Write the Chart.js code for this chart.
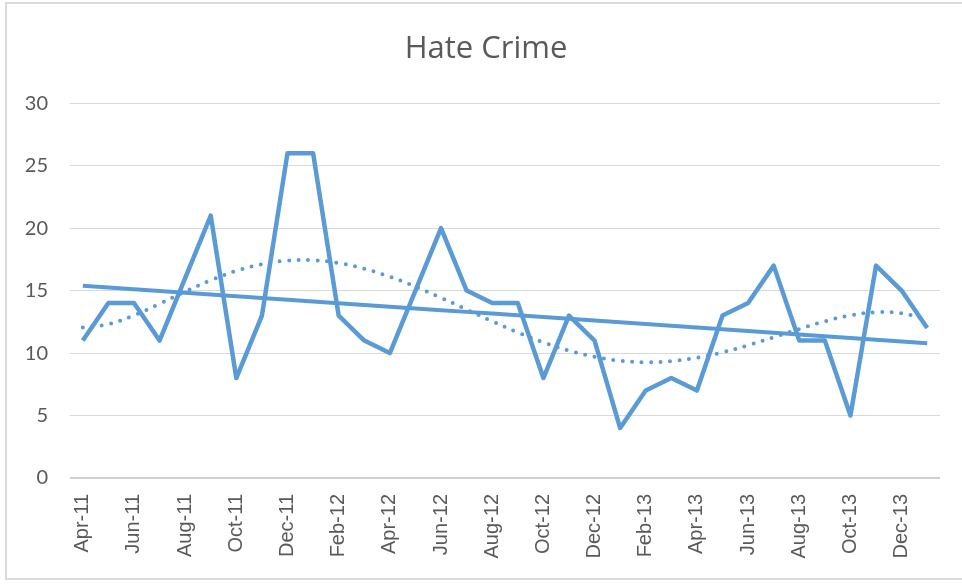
<!DOCTYPE html>
<html><head><meta charset="utf-8">
<script src="https://cdn.jsdelivr.net/npm/chart.js@4"></script>
<style>
html,body{margin:0;padding:0;background:#fff;overflow:hidden;width:962px;height:585px}
#frame{position:absolute;left:5px;top:2px;width:990px;height:578px;border:2px solid #D9D9D9;box-sizing:border-box}
#wrap{position:absolute;left:0;top:0;width:994px;height:585px}
</style></head><body>
<div id="frame"></div>
<div id="wrap"><canvas id="c"></canvas></div>
<script>
const chartTitle = 'Hate Crime';
const months = ['Apr-11','May-11','Jun-11','Jul-11','Aug-11','Sep-11','Oct-11','Nov-11','Dec-11',
  'Jan-12','Feb-12','Mar-12','Apr-12','May-12','Jun-12','Jul-12','Aug-12','Sep-12','Oct-12','Nov-12','Dec-12',
  'Jan-13','Feb-13','Mar-13','Apr-13','May-13','Jun-13','Jul-13','Aug-13','Sep-13','Oct-13','Nov-13','Dec-13',
  'Jan-14'];
const hateCrimes = [11,14,14,11,16,21,8,13,26,26,13,11,10,15,20,15,14,14,8,13,11,4,7,8,7,13,14,17,11,11,5,17,15,12];
const yTicks = [0,5,10,15,20,25,30];
const polyOrder = 6;

// least-squares trendlines computed from the data (as the spreadsheet does)
function polyFit(ys, order){
  const n = ys.length, c = (n+1)/2;
  const ts = ys.map((_,i)=>((i+1)-c)/c);
  const m = order+1;
  const A = Array.from({length:m},()=>new Array(m+1).fill(0));
  for(let i=0;i<n;i++){
    for(let r=0;r<m;r++){
      for(let k=0;k<m;k++) A[r][k]+=Math.pow(ts[i],r+k);
      A[r][m]+=ys[i]*Math.pow(ts[i],r);
    }
  }
  for(let col=0;col<m;col++){
    let p=col;
    for(let r=col+1;r<m;r++) if(Math.abs(A[r][col])>Math.abs(A[p][col])) p=r;
    [A[col],A[p]]=[A[p],A[col]];
    for(let r=0;r<m;r++){ if(r===col) continue;
      const f=A[r][col]/A[col][col];
      for(let k=col;k<=m;k++) A[r][k]-=f*A[col][k];
    }
  }
  const coef = A.map((row,i)=>row[m]/row[i]);
  return ts.map(t=>coef.reduce((s,a,j)=>s+a*Math.pow(t,j),0));
}
const linearTrend = polyFit(hateCrimes,1);
const polyTrend = polyFit(hateCrimes,polyOrder);

const blue = '#5B9BD5';
const textCol = '#595959';

new Chart(document.getElementById('c'), {
  type:'line',
  data:{
    labels: months,
    datasets:[
      {label:'Hate Crime', data:hateCrimes, borderColor:blue, borderWidth:4.5, pointRadius:0,
       tension:0, borderJoinStyle:'round', order:3},
      {label:'Linear', data:linearTrend, borderColor:blue, borderWidth:4, pointRadius:0, tension:0, order:2},
      {label:'Poly', data:polyTrend, borderColor:blue, borderWidth:4, pointRadius:0, tension:0.4,
       borderDash:[0,9.5], borderCapStyle:'round', order:1}
    ]
  },
  options:{
    responsive:true, maintainAspectRatio:false, animation:false,
    layout:{padding:{left:0,right:22,top:0,bottom:0}},
    plugins:{
      legend:{display:false}, tooltip:{enabled:false},
      title:{display:true, text:chartTitle, color:textCol,
        font:{family:'Open Sans', size:31, weight:'normal', lineHeight:1.2},
        padding:{top:31, bottom:35}}
    },
    scales:{
      x:{
        offset:true,
        grid:{display:false, drawTicks:false},
        border:{display:false},
        ticks:{autoSkip:false, maxRotation:90, minRotation:90, padding:16, color:textCol,
          font:{family:'Liberation Sans', size:20},
          callback:function(v,i){ return i%2===0 ? months[i] : ''; }},
        afterFit:function(s){ s.height = 107; }
      },
      y:{
        min:0, max:30,
        afterBuildTicks:function(s){ s.ticks = yTicks.map(v=>({value:v})); },
        grid:{color:function(ctx){return ctx.tick && ctx.tick.value===0 ? '#D0D0D0' : '#D9D9D9';},
              lineWidth:function(ctx){return ctx.tick && ctx.tick.value===0 ? 2 : 1;},
              drawTicks:false},
        border:{display:false},
        ticks:{padding:22, color:textCol, font:{family:'Lato', size:20}},
        afterFit:function(s){ s.width = 70; }
      },
      yRight:{
        position:'right', min:0, max:30,
        grid:{display:false, drawTicks:false},
        border:{display:false},
        ticks:{display:false},
        afterFit:function(s){ s.width = 32; }
      }
    }
  }
});
</script>
</body></html>
